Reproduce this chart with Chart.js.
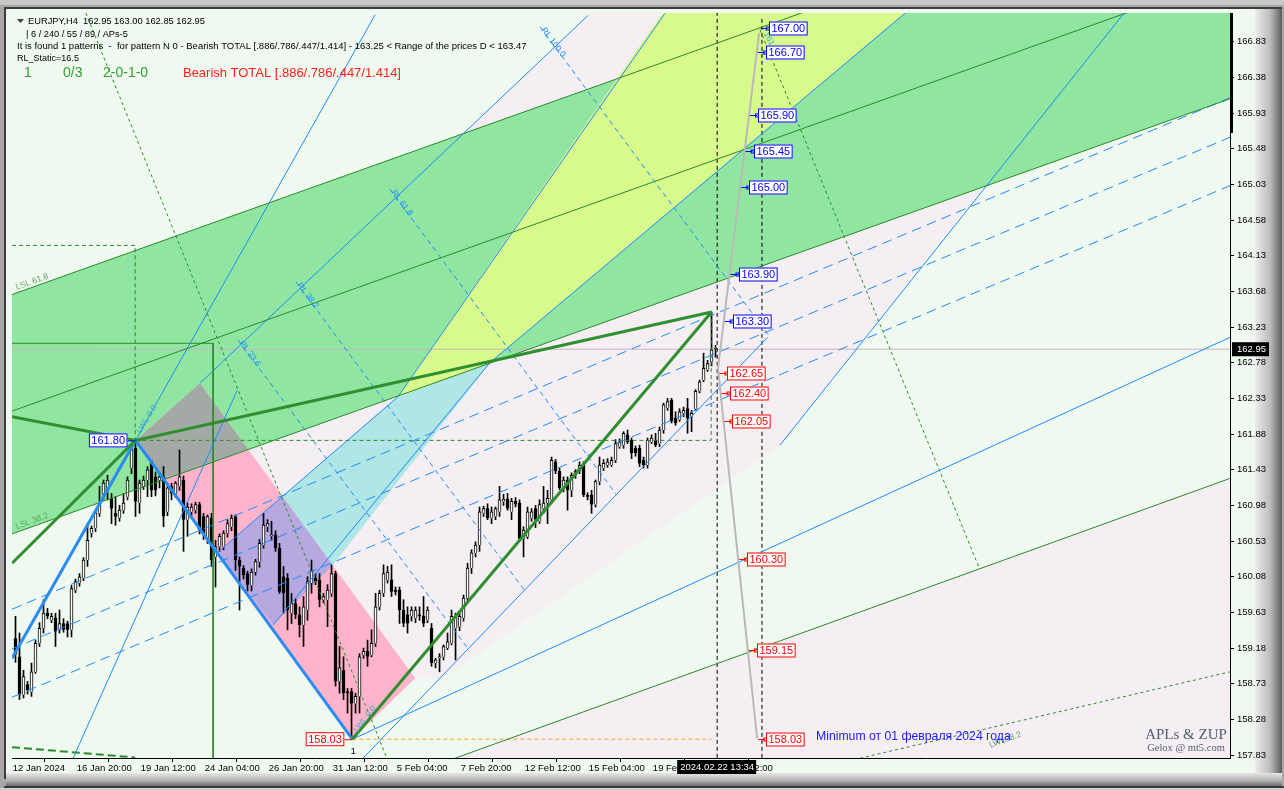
<!DOCTYPE html>
<html><head><meta charset="utf-8">
<script src="https://cdn.jsdelivr.net/npm/chart.js@4/dist/chart.umd.min.js"></script>
<style>html,body{margin:0;padding:0;background:#a0a0a0;}canvas{display:block}</style>
</head><body>
<canvas id="c" width="1284" height="790"></canvas>
<script>
// ---------------- DATA ----------------
const xTickPos = [-0.675,15.325,31.325,47.325,63.325,79.325,95.325,111.325,127.325,143.325,159.325,175.325];
const xTickLabels = ['12 Jan 2024','16 Jan 20:00','19 Jan 12:00','24 Jan 04:00','26 Jan 20:00','31 Jan 12:00','5 Feb 04:00','7 Feb 20:00','12 Feb 12:00','15 Feb 04:00','19 Feb 20:00','22 Feb 12:00'];
const priceTicks = [166.83,166.38,165.93,165.48,165.03,164.58,164.13,163.68,163.23,162.78,162.33,161.88,161.43,160.98,160.53,160.08,159.63,159.18,158.73,158.28,157.83];
const lastPrice = 162.95;

const opens = [159.30,159.07,158.59,158.72,158.63,158.88,159.24,159.43,159.62,159.53,159.56,159.41,159.49,159.49,159.41,159.91,160.00,160.06,160.29,160.63,160.69,160.88,161.13,161.17,161.07,160.88,160.82,160.92,161.09,161.45,161.70,
161.01,161.22,161.30,161.53,161.34,161.30,161.34,160.90,161.22,161.13,161.22,161.30,160.80,160.90,160.92,160.99,160.84,160.54,160.82,160.33,160.46,160.46,160.63,160.71,160.84,160.29,160.19,160.12,159.97,160.14,160.27,160.48,160.71,160.59,160.61,160.44,160.08,160.06,159.62,159.74,159.60,159.47,159.66,160.00,160.06,160.04,159.79,159.79,159.87,160.12,158.76,158.90,158.63,158.63,
158.48,158.57,159.09,159.14,159.09,159.24,159.70,159.87,160.04,160.04,159.91,159.91,159.66,159.60,159.58,159.56,159.60,159.58,159.53,159.43,158.99,159.05,159.07,159.18,159.24,159.43,159.45,159.56,159.81,160.19,160.38,160.48,160.88,160.94,160.82,160.84,160.90,161.03,161.06,160.90,161.03,161.01,160.56,160.59,160.82,160.94,160.78,160.94,161.01,161.05,161.53,161.41,161.22,161.30,161.17,161.36,161.41,161.49,161.11,161.11,160.99,161.28,161.45,161.49,161.49,161.55,161.72,161.74,161.87,161.80,161.70,161.70,161.55,161.49,161.78,161.80,161.76,161.93,162.21,162.31,162.08,162.06,162.14,162.20,162.10,162.20,162.42,162.56,162.69,162.79,162.95];
const highs = [159.58,159.37,158.90,158.76,158.99,159.28,159.50,159.79,159.68,159.62,159.62,159.66,159.55,159.52,159.97,160.05,160.12,160.32,160.75,160.72,160.92,161.22,161.30,161.36,161.13,161.09,160.98,161.13,161.34,161.74,161.80,
161.30,161.35,161.47,161.55,161.40,161.40,161.47,161.25,161.26,161.28,161.68,161.35,161.01,161.00,161.02,161.02,160.88,160.86,160.88,160.54,160.62,160.66,160.80,160.86,160.86,160.33,160.22,160.15,160.18,160.30,160.55,160.88,160.80,160.78,160.66,160.50,160.21,160.12,159.87,159.80,159.70,159.83,160.08,160.29,160.12,160.12,159.87,159.98,160.23,160.15,159.20,159.07,158.67,158.67,
158.61,159.11,159.18,159.28,159.41,159.87,159.91,160.23,160.21,160.23,159.95,159.95,159.79,159.70,159.70,159.70,159.70,159.83,159.70,159.49,159.05,159.11,159.22,159.37,159.66,159.62,159.62,159.85,160.25,160.42,160.52,160.96,160.97,161.00,160.96,160.96,161.22,161.12,161.13,161.07,161.08,161.05,160.71,160.96,160.94,160.98,161.05,161.22,161.17,161.59,161.56,161.45,161.34,161.34,161.39,161.43,161.53,161.53,161.14,161.17,161.30,161.59,161.56,161.57,161.59,161.81,161.82,161.91,161.93,161.83,161.73,161.74,161.59,161.83,161.87,161.89,161.97,162.27,162.33,162.33,162.16,162.20,162.22,162.33,162.18,162.44,162.56,162.90,162.81,163.42,163.00];
const lows = [159.00,158.53,158.55,158.60,158.57,158.86,159.20,159.37,159.55,159.50,159.20,159.37,159.38,159.32,159.32,159.88,159.96,160.03,160.21,160.58,160.65,160.84,161.05,161.05,160.75,160.73,160.78,160.88,161.05,161.38,160.84,
160.88,161.18,161.09,161.09,161.10,161.20,160.71,160.85,161.05,161.08,161.17,160.40,160.59,160.85,160.88,160.62,160.55,160.50,160.21,159.95,160.40,160.42,160.58,160.66,160.16,159.66,160.05,159.90,159.90,160.10,160.20,160.44,160.65,160.54,160.40,159.87,159.62,159.41,159.49,159.55,159.32,159.20,159.53,159.87,159.98,159.70,159.75,159.45,159.83,158.70,158.61,158.53,158.36,158.03,
158.36,158.36,159.05,158.95,159.07,159.20,159.66,159.83,160.00,159.83,159.85,159.49,159.45,159.37,159.52,159.50,159.53,159.45,159.50,158.95,158.93,158.88,159.03,159.16,159.22,159.03,159.40,159.52,159.78,160.12,160.33,160.40,160.84,160.80,160.75,160.80,160.84,160.98,160.92,160.80,160.96,160.54,160.33,160.56,160.78,160.70,160.75,160.88,160.75,161.01,161.38,161.18,161.15,160.92,161.09,161.32,161.38,161.09,161.05,160.88,160.96,161.24,161.42,161.46,161.47,161.52,161.70,161.70,161.76,161.57,161.60,161.47,161.45,161.45,161.76,161.72,161.72,161.89,162.18,162.02,161.99,162.04,162.10,161.89,161.91,162.18,162.40,162.54,162.67,162.74,162.85];
const closes = [159.10,158.59,158.82,158.65,158.88,159.24,159.43,159.62,159.58,159.58,159.39,159.49,159.41,159.41,159.93,160.02,160.08,160.29,160.54,160.69,160.88,161.01,161.26,161.30,160.94,160.84,160.92,161.01,161.30,161.68,161.03,
161.26,161.30,161.43,161.17,161.17,161.34,160.84,161.20,161.13,161.26,161.34,160.80,160.96,160.96,160.99,160.67,160.63,160.84,160.29,160.46,160.59,160.63,160.75,160.82,160.29,160.21,160.10,159.98,160.14,160.27,160.50,160.73,160.75,160.61,160.44,159.89,159.87,159.66,159.74,159.60,159.47,159.70,160.02,160.16,160.02,159.79,159.83,159.91,160.12,158.76,158.93,158.61,158.61,158.48,
158.57,159.07,159.14,159.07,159.24,159.70,159.87,160.12,160.14,159.89,159.89,159.66,159.49,159.49,159.66,159.66,159.58,159.49,159.66,158.99,159.03,159.07,159.20,159.26,159.58,159.58,159.58,159.81,160.19,160.38,160.48,160.90,160.94,160.82,160.90,160.94,161.05,161.06,160.94,161.03,160.99,160.56,160.67,160.90,160.90,160.80,160.99,161.01,161.07,161.55,161.41,161.20,161.30,161.17,161.36,161.41,161.49,161.11,161.09,160.99,161.28,161.49,161.51,161.53,161.55,161.76,161.78,161.89,161.78,161.64,161.64,161.51,161.49,161.80,161.83,161.74,161.93,162.25,162.29,162.04,162.02,162.16,162.18,162.08,162.14,162.42,162.54,162.71,162.77,162.94,162.95];

// overlay geometry, [bar index, price]
const greenBandTop = [[-0.875,163.64],[303.6,169.12]];
const greenBandMid = [[-0.875,162.17],[303.6,167.66]];
const greenBandLow = [[-0.875,160.62],[303.6,166.11]];
const greenFarLine = [[100,157.61],[303.6,161.32]];
const cyanZone = [[50.6,160.39],[95.6,162.35],[118.6,162.78],[79.4,160.23],[64.4,159.47]];
const limeZone = [[95.6,162.35],[172.6,167.99],[241.1,167.99],[118.6,162.78]];
const paleZone = [[99.9,158.80],[46.1,162.52],[160.4,167.99],[288.9,167.99],[191.1,161.74],[106.9,158.80]];
const paleZone2 = [[100,157.61],[303.6,161.32],[303.6,157.5],[100,157.5]];
const pinkBand = [[30,161.80],[46.1,162.52],[99.9,158.80],[84.2,158.03]];
const zigzagBlue = [[-0.875,159.05],[30,161.80],[84.2,158.03]];
const blueLegExt = [[30,161.80],[89.9,167.17]];
const blueThroughB = [[46.1,162.52],[143.1,167.16]];
const blueSteep1 = [[14.4,157.79],[55.4,162.43]];
const blueSteep2 = [[191.1,161.74],[277.1,167.19]];
const blueFromC = [[84.2,158.03],[303.6,163.10]];
const blueChannelLow = [[84.2,157.65],[188,163.10]];
const blueCyanLeft = [[50.6,160.39],[95.6,162.35]];
const blueCyanRight = [[64.4,159.47],[118.6,162.78]];
const blueLimeLeft = [[95.6,162.35],[162.4,167.19]];
const blueLimeRight = [[118.6,162.78],[222.4,167.19]];
const blueDashA = [[-0.875,159.67],[303.9,166.13]];
const blueDashB = [[-0.875,159.17],[303.9,165.63]];
const blueDashC = [[-0.875,158.56],[303.9,165.02]];
const rlLevels = ['RL 100.0','RL 61.8','RL 38.2','RL 23.6'];
const rlLines = [[[131.1,167.02],[188.2,163.13]],[[93.6,164.97],[150.3,161.11]],[[70.1,163.80],[127.5,159.89]],[[55.6,163.07],[113.3,159.16]]];
const greenDot1 = [[17.6,167.19],[92.6,157.82]];
const greenDot2 = [[186.1,166.98],[240.9,160.19]];
const greenDot3 = [[211.1,157.79],[303.6,158.88]];
const greenDash4 = [[-0.875,157.93],[29.9,157.80]];
const rectDashTop = [[-0.875,164.26],[29.9,164.26],[29.9,161.80]];
const rectSolid = [[-0.875,163.025],[49.4,163.025],[49.4,157.0]];
const rectDashD = [[30,161.80],[173.9,161.80],[173.9,163.42]];
const orangeLevel = [[84.2,158.03],[174,158.03]];
const cursorLine = [[175.4,157.0],[175.4,168.0]];
const futureLine = [[186.6,157.0],[186.6,167.15]];
const projLine = [[185.9,166.94],[175.6,162.71],[185.4,158.04]];
const blueLevels = [167.00,166.70,165.90,165.45,165.00,163.90,163.30];
const redLevels = [162.65,162.40,162.05,160.30,159.15,158.03];

// ---------------- helpers ----------------
function clipPoly(subject, clip){
  let area=0; for(let k=0;k<clip.length;k++){const a=clip[k],b=clip[(k+1)%clip.length];area+=a[0]*b[1]-b[0]*a[1];}
  const sgn=area>0?1:-1; let out=subject.slice();
  for(let k=0;k<clip.length;k++){
    const A=clip[k],B=clip[(k+1)%clip.length]; const inp=out; out=[]; if(!inp.length)break;
    const ins=p=>sgn*((B[0]-A[0])*(p[1]-A[1])-(B[1]-A[1])*(p[0]-A[0]))>=0;
    const inter=(P,Q)=>{const a1=B[1]-A[1],b1=A[0]-B[0],c1=a1*A[0]+b1*A[1];const a2=Q[1]-P[1],b2=P[0]-Q[0],c2=a2*P[0]+b2*P[1];const d=a1*b2-a2*b1;return[(b2*c1-b1*c2)/d,(a1*c2-a2*c1)/d];};
    for(let m=0;m<inp.length;m++){const P=inp[m],Q=inp[(m+1)%inp.length];const pi=ins(P),qi=ins(Q);
      if(qi){if(!pi)out.push(inter(P,Q));out.push(Q);}else if(pi)out.push(inter(P,Q));}
  }
  return out;
}
const greenPoly = [greenBandTop[0],greenBandTop[1],greenBandLow[1],greenBandLow[0]];
const pts = a => a.map(p=>({x:p[0],y:p[1]}));
const polyDS = (poly,color,order)=>({type:'line',data:pts(poly),fill:'shape',backgroundColor:color,borderColor:'rgba(0,0,0,0)',borderWidth:0,pointRadius:0,order,tension:0});
const lineDS = (a,color,w,dash,order)=>({type:'line',data:pts(a),borderColor:color,borderWidth:w,borderDash:dash||[],pointRadius:0,fill:false,order:order||20,tension:0});

const idx = opens.map((_,i)=>i);
const wickData = idx.map(i=>({x:i,y:[lows[i],highs[i]]}));
const bodyData = idx.map(i=>({x:i,y:[Math.min(opens[i],closes[i]),Math.max(opens[i],closes[i])]}));
const bodyColors = idx.map(i=>closes[i]>=opens[i]?'#ffffff':'#000000');

const GREEN='#90e6a0', LIME='#d8fa8c', CYAN='#b0e6e6', PINK='#ffb4cc', GRAYF='#a3aaa6', PURPLE='#b8a8e0', PALE='#f5eff4';
const DG='#2b8a2b', BL='#1e8cff';

const datasets = [
  polyDS(paleZone,PALE,110),
  polyDS(paleZone2,PALE,109),
  polyDS(greenPoly,GREEN,100),
  polyDS(cyanZone,CYAN,99),
  polyDS(limeZone,LIME,98),
  polyDS(pinkBand,PINK,97),
  polyDS(clipPoly(pinkBand,greenPoly),GRAYF,96),
  polyDS(clipPoly(pinkBand,cyanZone),PURPLE,95),
  lineDS([[-0.875,lastPrice],[303.6,lastPrice]],'#cbb5bf',1,[],90),
  {type:'bar',data:wickData,backgroundColor:'#000',barThickness:1,grouped:false,order:60},
  {type:'bar',data:bodyData,backgroundColor:bodyColors,borderColor:'#000',borderWidth:1,barThickness:3,minBarLength:1,grouped:false,order:59},
  lineDS(greenBandTop,DG,1),lineDS(greenBandMid,DG,1),lineDS(greenBandLow,DG,1),lineDS(greenFarLine,DG,1),
  lineDS(blueCyanLeft,BL,1),lineDS(blueCyanRight,BL,1),lineDS(blueLimeLeft,BL,1),lineDS(blueLimeRight,BL,1),
  lineDS(blueLegExt,BL,1),lineDS(blueThroughB,BL,1),lineDS(blueSteep1,BL,1),lineDS(blueSteep2,BL,1),lineDS(blueFromC,BL,1),lineDS(blueChannelLow,BL,1),
  lineDS(blueDashA,BL,1,[10,6]),lineDS(blueDashB,BL,1,[10,6]),lineDS(blueDashC,BL,1,[10,6]),
  ...rlLines.map(l=>lineDS(l,BL,1,[5,4])),
  lineDS(greenDot1,DG,1,[3,3]),lineDS(greenDot2,DG,1,[3,3]),lineDS(greenDot3,DG,1,[3,3]),lineDS(greenDash4,DG,2,[8,4]),
  lineDS(rectDashTop,DG,1,[4,3]),lineDS(rectSolid,DG,1),lineDS(rectDashD,DG,1,[4,3]),
  lineDS(orangeLevel,'#ffa020',1,[4,3]),
  lineDS(cursorLine,'#000',1,[4,3]),lineDS(futureLine,'#000',1,[4,3]),
  lineDS(projLine,'#b9b9b9',2,[],15),
  lineDS(zigzagBlue,'#2a8cf0',3,[],12),
  lineDS([[-0.875,162.10],[30,161.80],[174,163.42]],'#2f8f2f',3,[],11),
  lineDS([[-0.875,160.25],[30,161.80]],'#2f8f2f',3,[],11),
  lineDS([[84.2,158.03],[174,163.42]],'#2f8f2f',3,[],11)
];

function projX(price){
  const p=projLine; const seg = price>=p[1][1]?[p[0],p[1]]:[p[1],p[2]];
  const t=(price-seg[0][1])/(seg[1][1]-seg[0][1]); return seg[0][0]+t*(seg[1][0]-seg[0][0]);
}
function fitText(ctx, txt, family, target){
  ctx.font = '20px '+family; const w=ctx.measureText(txt).width; return 20*target/w;
}
function priceBox(ctx, x, y, txt, color, font){
  ctx.font=font; const w=ctx.measureText(txt).width+5; const h=14;
  ctx.fillStyle='#fff'; ctx.fillRect(x,y-h/2,w,h); ctx.strokeStyle=color; ctx.lineWidth=1; ctx.strokeRect(x+0.5,y-h/2+0.5,w-1,h-1);
  ctx.fillStyle=color; ctx.textBaseline='middle'; ctx.textAlign='left'; ctx.fillText(txt,x+2.5,y+0.5);
  return w;
}
function rotText(ctx, txt, x, y, ang, color, font){
  ctx.save(); ctx.translate(x,y); ctx.rotate(ang*Math.PI/180); ctx.fillStyle=color; ctx.font=font; ctx.textAlign='left'; ctx.textBaseline='middle'; ctx.fillText(txt,0,0); ctx.restore();
}

const framePlugin = {id:'frame', beforeDraw(chart){
  const c=chart.ctx, a=chart.chartArea; c.save();
  c.fillStyle='#a8a8a8'; c.fillRect(0,0,1284,790);
  c.fillStyle='#c8c8c8'; c.fillRect(0,0,1284,5);
  c.fillStyle='#3c3c3c'; c.fillRect(4,7,1278,2); c.fillRect(4,7,2,772);
  c.fillStyle='#f0f9f0'; c.fillRect(6,9,1252,766);
  let g=c.createLinearGradient(1255,0,1282,0); g.addColorStop(0,'#ececec'); g.addColorStop(0.55,'#bdbdbd'); g.addColorStop(0.8,'#8a8a8a'); g.addColorStop(1,'#5a5a5a');
  c.fillStyle=g; c.fillRect(1255,9,27,770);
  g=c.createLinearGradient(0,773,0,786); g.addColorStop(0,'#e6e6e6'); g.addColorStop(0.6,'#b0b0b0'); g.addColorStop(1,'#6a6a6a');
  c.fillStyle=g; c.fillRect(6,773,1276,13);
  c.fillStyle='#3c3c3c'; c.fillRect(4,786,1280,2);
  c.fillStyle='#d0d0d0'; c.fillRect(0,788,1284,2);
  c.fillStyle='#eff9ef'; c.fillRect(a.left,a.top,a.right-a.left,a.bottom-a.top);
  c.restore();
}};

const labelPlugin = {id:'labels', afterDraw(chart){
  const c=chart.ctx, xs=chart.scales.x, ys=chart.scales.y, a=chart.chartArea;
  const X=v=>xs.getPixelForValue(v), Y=v=>ys.getPixelForValue(v);
  c.save();
  c.beginPath(); c.rect(a.left,a.top,a.right-a.left,a.bottom-a.top); c.clip();
  const cf='8.5px "Liberation Sans"';
  rotText(c,'LSL 61.8',16,Y(163.64)-7,-19.6,'#5f9f5f',cf);
  rotText(c,'LSL 38.2',16,Y(160.62)-7,-19.6,'#5f9f5f',cf);
  rotText(c,'LWL 0.0',X(30)+3,Y(161.80)-8,-58,'#3aa6c8',cf);
  rotText(c,'LWL 0.0',X(84.2)+3,Y(158.03)-8,-52,'#3aa6c8',cf);
  rotText(c,'161.8',X(187.5),Y(166.97)+2,62,'#3aa6c8',cf);
  rotText(c,'LWL38.2',X(243.5),Y(157.95),-20,'#5f9f5f',cf);
  rlLines.forEach((l,k)=>{ rotText(c,rlLevels[k],X(l[0][0])+3,Y(l[0][1])+2,53,'#1e8cff',cf); });
  const bf='11px "Liberation Sans"';
  blueLevels.concat(redLevels).forEach((p,k)=>{
    const col = k<blueLevels.length?'#0000ff':'#ff0000';
    const gx=X(projX(p)), y=Math.round(Y(p))+0.5;
    c.strokeStyle=col; c.lineWidth=1; c.beginPath(); c.moveTo(gx+1,y); c.lineTo(gx+8,y); c.stroke();
    c.strokeRect(gx+6.5,y-1.5,3,3);
    priceBox(c,Math.round(gx+9),y,p.toFixed(2),col,bf);
  });
  const xX=X(30), yX=Y(161.80); c.strokeStyle='#0000ff'; c.beginPath(); c.moveTo(xX-8,yX+0.5); c.lineTo(xX,yX+0.5); c.stroke();
  c.font=bf; let w=c.measureText('161.80').width+5; priceBox(c,xX-8-w,yX,'161.80','#0000ff',bf);
  const xC=X(84.2), yC=Y(158.03); c.strokeStyle='#ff0000'; c.beginPath(); c.moveTo(xC-8,yC+0.5); c.lineTo(xC,yC+0.5); c.stroke();
  w=c.measureText('158.03').width+5; priceBox(c,xC-8-w,yC,'158.03','#ff0000',bf);
  c.fillStyle='#000'; c.font='9px "Liberation Sans"'; c.textAlign='center'; c.fillText('1',xC+1,yC+12);
  c.fillStyle='#1a1aff'; c.textAlign='left'; c.textBaseline='middle'; c.font=fitText(c,'Minimum от 01 февраля 2024 года','"Liberation Sans"',195)+'px "Liberation Sans"';
  c.fillText('Minimum от 01 февраля 2024 года',816,737);
  c.fillStyle='#4f5f70'; c.textAlign='center';
  c.font='15px "Liberation Serif"'; c.fillText('APLs & ZUP',1186,735);
  c.font='10.5px "Liberation Serif"'; c.fillText('Gelox @ mt5.com',1186,748);
  c.textAlign='left'; c.textBaseline='middle';
  c.fillStyle='#404040'; c.beginPath(); c.moveTo(17,19); c.lineTo(24,19); c.lineTo(20.5,23); c.closePath(); c.fill();
  const sf='"Liberation Sans Narrow","Liberation Sans"';
  c.fillStyle='#000';
  c.font=fitText(c,'EURJPY,H4',sf,50)+'px '+sf; c.fillText('EURJPY,H4',28,21.5);
  c.font=fitText(c,'162.95 163.00 162.85 162.95',sf,122)+'px '+sf; c.fillText('162.95 163.00 162.85 162.95',83,21.5);
  c.font=fitText(c,'| 6 / 240 / 55 / 89 / APs-5',sf,102)+'px '+sf; c.fillText('| 6 / 240 / 55 / 89 / APs-5',26,34.5);
  const l3='It is found 1 patterns  -  for pattern N 0 - Bearish TOTAL [.886/.786/.447/1.414] - 163.25 < Range of the prices D < 163.47';
  c.font=fitText(c,l3,sf,510)+'px '+sf; c.fillText(l3,17,46.5);
  c.font=fitText(c,'RL_Static=16.5',sf,62)+'px '+sf; c.fillText('RL_Static=16.5',17,58.5);
  const bfam='"Liberation Sans"';
  c.fillStyle='#33a033'; c.font='14px '+bfam;
  c.fillText('1',24,73); c.fillText('0/3',63,73); c.fillText('2-0-1-0',103,73);
  c.fillStyle='#ff1c1c'; c.font=fitText(c,'Bearish TOTAL [.886/.786/.447/1.414]',bfam,218)+'px '+bfam;
  c.fillText('Bearish TOTAL [.886/.786/.447/1.414]',183,73);
  c.restore();
  c.save();
  c.fillStyle='#000'; c.fillRect(a.right,a.top,3,120);
  const yl=Y(lastPrice); c.fillRect(a.right+2,yl-7,37,14);
  c.fillStyle='#fff'; c.font='9.5px "Liberation Sans"'; c.textBaseline='middle'; c.textAlign='left'; c.fillText(lastPrice.toFixed(2),a.right+7,yl+0.5);
  const xc=X(175.4); c.fillStyle='#000'; c.fillRect(xc-40,a.bottom+2,79,14);
  c.fillStyle='#fff'; c.textAlign='center'; c.font='9.5px "Liberation Sans"'; c.fillText('2024.02.22 13:34',xc,a.bottom+9.5);
  c.restore();
}};

new Chart(document.getElementById('c'),{
  type:'bar',
  data:{datasets},
  options:{
    responsive:false, animation:false, devicePixelRatio:1,
    layout:{padding:{left:12,top:13,right:4,bottom:12}},
    plugins:{legend:{display:false},tooltip:{enabled:false}},
    scales:{
      x:{type:'linear',min:-0.875,max:303.6,offset:false,
        afterBuildTicks:s=>{s.ticks=xTickPos.map(v=>({value:v}));},
        afterFit:s=>{s.height=20;},
        ticks:{autoSkip:false,maxRotation:0,minRotation:0,align:'start',padding:1,color:'#000',font:{family:'Liberation Sans',size:9.5},callback:(v,i)=>xTickLabels[i]},
        grid:{display:true,drawOnChartArea:false,drawTicks:true,tickLength:4,color:'#000'},
        border:{display:true,color:'#000'}},
      y:{type:'linear',position:'right',min:157.793,max:167.192,
        afterBuildTicks:s=>{s.ticks=priceTicks.map(v=>({value:v}));},
        afterFit:s=>{s.width=50;},
        ticks:{autoSkip:false,padding:3,color:'#000',font:{family:'Liberation Sans',size:9.5},callback:v=>Number(v).toFixed(2)},
        grid:{display:true,drawOnChartArea:false,drawTicks:true,tickLength:4,color:'#000'},
        border:{display:true,color:'#000'}}
    }
  },
  plugins:[framePlugin,labelPlugin]
});
</script>
</body></html>
